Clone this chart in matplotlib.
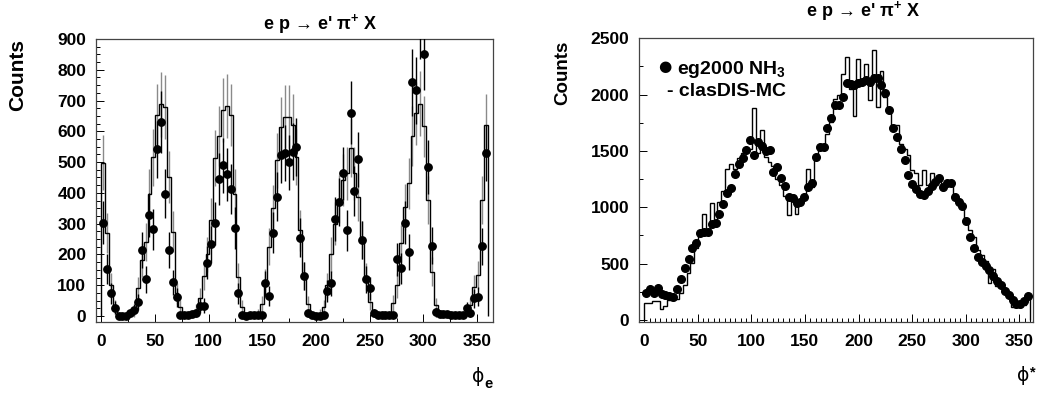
import numpy as np
import matplotlib
matplotlib.use('Agg')
import matplotlib.pyplot as plt
from matplotlib.ticker import MultipleLocator

plt.rcParams['font.family'] = ['Liberation Sans', 'DejaVu Sans']
plt.rcParams['font.weight'] = 'bold'
plt.rcParams['mathtext.fontset'] = 'custom'
plt.rcParams['mathtext.rm'] = 'Liberation Sans'
plt.rcParams['mathtext.bf'] = 'Liberation Sans:bold'
plt.rcParams['mathtext.default'] = 'rm'

# 100 bins of 3.6 deg in phi
n_bins = 100
edges = np.linspace(0, 360, n_bins + 1)
centers = 0.5 * (edges[1:] + edges[:-1])

# ---- left panel: phi_e ----
data_e = [303, 153, 74, 27, 1, 0, 1, 9, 20, 46,
          214, 119, 328, 282, 542, 631, 398, 214, 109, 61,
          2, 2, 3, 5, 10, 34, 34, 173, 233, 301,
          444, 490, 461, 414, 285, 74, 2, 1, 2, 3,
          3, 4, 106, 65, 271, 388, 523, 530, 499, 534,
          548, 255, 130, 9, 2, 0, 1, 2, 82, 106,
          315, 371, 463, 279, 661, 406, 509, 247, 119, 90,
          10, 4, 3, 3, 2, 3, 184, 155, 303, 207,
          759, 733, 960, 851, 484, 229, 12, 8, 6, 5,
          4, 3, 2, 2, 25, 11, 57, 63, 227, 530]
data_e_err = [70, 50, 34, 21, 4, 0, 4, 12, 18, 27,
              58, 44, 72, 67, 93, 100, 80, 58, 42, 31,
              6, 6, 7, 9, 13, 23, 23, 53, 61, 69,
              84, 89, 86, 81, 68, 34, 6, 4, 6, 7,
              7, 8, 41, 32, 66, 79, 91, 92, 89, 92,
              94, 64, 46, 12, 6, 0, 4, 6, 36, 41,
              71, 77, 86, 67, 103, 81, 90, 63, 44, 38,
              13, 8, 7, 7, 6, 7, 54, 50, 70, 58,
              110, 108, 124, 117, 88, 61, 14, 11, 10, 9,
              8, 7, 6, 6, 20, 13, 30, 32, 60, 92]
mc_e = [498, 270, 100, 30, 5, 0, 0, 0, 10, 90,
        182, 241, 398, 515, 653, 688, 680, 452, 274, 74,
        30, 0, 0, 0, 20, 60, 130, 200, 312, 512,
        584, 670, 682, 653, 398, 128, 30, 5, 0, 0,
        10, 40, 110, 225, 350, 506, 614, 647, 647, 620,
        517, 279, 130, 40, 5, 0, 10, 30, 100, 200,
        300, 379, 441, 463, 546, 463, 387, 247, 128, 46,
        10, 0, 0, 0, 5, 41, 100, 236, 355, 431,
        584, 658, 690, 617, 377, 144, 36, 5, 0, 0,
        0, 0, 0, 5, 15, 36, 95, 133, 377, 620]
mc_e_err = [89, 66, 40, 22, 9, 0, 0, 0, 13, 38,
            54, 62, 80, 91, 102, 105, 104, 85, 66, 34,
            22, 0, 0, 0, 18, 31, 46, 57, 71, 91,
            97, 104, 104, 102, 80, 45, 22, 9, 0, 0,
            13, 25, 42, 60, 75, 90, 99, 102, 102, 100,
            91, 67, 46, 25, 9, 0, 13, 22, 40, 57,
            69, 78, 84, 86, 93, 86, 79, 63, 45, 27,
            13, 0, 0, 0, 9, 26, 40, 61, 75, 83,
            97, 103, 105, 99, 78, 48, 24, 9, 0, 0,
            0, 0, 0, 9, 15, 24, 39, 46, 78, 100]

# ---- right panel: phi* ----
data_s = [237, 272, 237, 281, 231, 222, 213, 207, 272, 361,
          459, 539, 642, 686, 775, 781, 781, 852, 858, 938,
          1032, 1130, 1171, 1296, 1382, 1435, 1509, 1600, 1460, 1575,
          1540, 1502, 1509, 1316, 1361, 1257, 1189, 1094, 1080, 1035,
          1050, 1094, 1178, 1219, 1449, 1538, 1538, 1701, 1790, 1908,
          1908, 1982, 2106, 2094, 2086, 2100, 2115, 2130, 2115, 2145,
          2145, 2086, 2012, 1864, 1701, 1621, 1515, 1420, 1287, 1207,
          1160, 1118, 1109, 1148, 1189, 1228, 1257, 1183, 1219, 1219,
          1089, 1050, 1012, 881, 734, 636, 562, 518, 479, 444,
          390, 349, 311, 260, 220, 177, 142, 142, 171, 213]
mc_s = [154, 154, 169, 169, 95, 120, 180, 180, 190, 237,
        311, 414, 503, 636, 769, 940, 799, 1040, 860, 1050,
        1140, 1340, 1380, 1340, 1440, 1480, 1490, 1520, 1879, 1480,
        1686, 1450, 1400, 1370, 1250, 1200, 1100, 932, 1110, 940,
        1030, 1080, 1337, 1180, 1460, 1530, 1550, 1650, 1760, 1960,
        2000, 2180, 2337, 2050, 1810, 2313, 2100, 2272, 1952, 2396,
        1893, 2213, 1980, 1870, 1700, 1731, 1560, 1520, 1464, 1330,
        1302, 1198, 1331, 1200, 1300, 1220, 1240, 1150, 1230, 1219,
        1110, 1070, 1000, 903, 800, 740, 620, 580, 520, 326,
        450, 300, 290, 280, 230, 118, 118, 118, 133, 200]

W, H = 1039, 396
fig = plt.figure(figsize=(W / 100, H / 100), dpi=100)


def fx(px):
    return px / W


def fy(py):
    return 1 - py / H


def style_axes(ax, ymajor, yminor, xminor):
    for s in ax.spines.values():
        s.set_color('#444444')
        s.set_linewidth(0.9)
    ax.xaxis.set_major_locator(MultipleLocator(50))
    ax.xaxis.set_minor_locator(MultipleLocator(xminor))
    ax.yaxis.set_major_locator(MultipleLocator(ymajor))
    ax.yaxis.set_minor_locator(MultipleLocator(yminor))
    ax.tick_params(which='both', direction='in', top=False, right=False,
                   width=0.7, color='black', labelsize=12.5)
    ax.tick_params(which='major', length=6)
    ax.tick_params(which='minor', length=3)
    ax.tick_params(axis='y', pad=7)
    ax.tick_params(axis='x', pad=9)
    for lab in ax.get_xticklabels() + ax.get_yticklabels():
        lab.set_fontweight('bold')


# left
ax1 = fig.add_axes([fx(96), fy(322), fx(493) - fx(96), fy(39) - fy(322)])
ax1.stairs(mc_e, edges, baseline=0, color='black', lw=1.0, zorder=2)
ax1.errorbar(centers, mc_e, yerr=mc_e_err, fmt='none', ecolor='#8a8a8a',
             elinewidth=1.0, capsize=0, zorder=1)
ax1.errorbar(centers, data_e, yerr=data_e_err, fmt='o', color='black',
             ms=5.3, elinewidth=1.0, capsize=0, zorder=3)
ax1.set_xlim(-4.8, 364.8)
ax1.set_ylim(-19.5, 900)
style_axes(ax1, 100, 25, 25)

# right
ax2 = fig.add_axes([fx(639), fy(322), fx(1033) - fx(639), fy(38) - fy(322)])
ax2.stairs(mc_s, edges, baseline=0, color='black', lw=1.0, zorder=2)
ax2.plot(centers, data_s, 'o', color='black', ms=5.5, zorder=3)
ax2.set_xlim(-4.8, 362.8)
ax2.set_ylim(-18, 2502)
style_axes(ax2, 500, 250, 5)

# titles
title = "e p \u2192 e' \u03c0$^{\\mathbf{+}}$ X"
fig.text(fx(320), fy(29.5), title, ha='center', va='baseline',
         fontsize=13, fontweight='bold')
fig.text(fx(863), fy(16), title, ha='center', va='baseline',
         fontsize=13, fontweight='bold')

# y labels
fig.text(fx(17.5), fy(75), 'Counts', rotation=90, ha='center', va='center',
         fontsize=15, fontweight='bold')
fig.text(fx(562.5), fy(72.5), 'Counts', rotation=90, ha='center', va='center',
         fontsize=13.5, fontweight='bold')

# x labels
fig.text(fx(472), fy(382), '\u03d5', family='DejaVu Sans', fontweight='normal',
         fontsize=13.5, ha='left', va='baseline')
fig.text(fx(484.5), fy(388), 'e', fontsize=10.5, fontweight='bold',
         ha='left', va='baseline')
fig.text(fx(1017), fy(381), '\u03d5', family='DejaVu Sans', fontweight='normal',
         fontsize=13.5, ha='left', va='baseline')
fig.text(fx(1029.5), fy(376), '*', fontsize=10.5, fontweight='bold',
         ha='left', va='baseline')

# legend
fig.text(fx(665), fy(66.7), '\u25cf', family='DejaVu Sans', fontsize=11,
         ha='center', va='center')
fig.text(fx(676.7), fy(74), 'eg2000 NH$_{\\mathbf{3}}$', fontsize=14,
         fontweight='bold', ha='left', va='baseline')
fig.text(fx(666.7), fy(96), '- clasDIS-MC', fontsize=14,
         fontweight='bold', ha='left', va='baseline')

fig.savefig('out.png', dpi=100)
